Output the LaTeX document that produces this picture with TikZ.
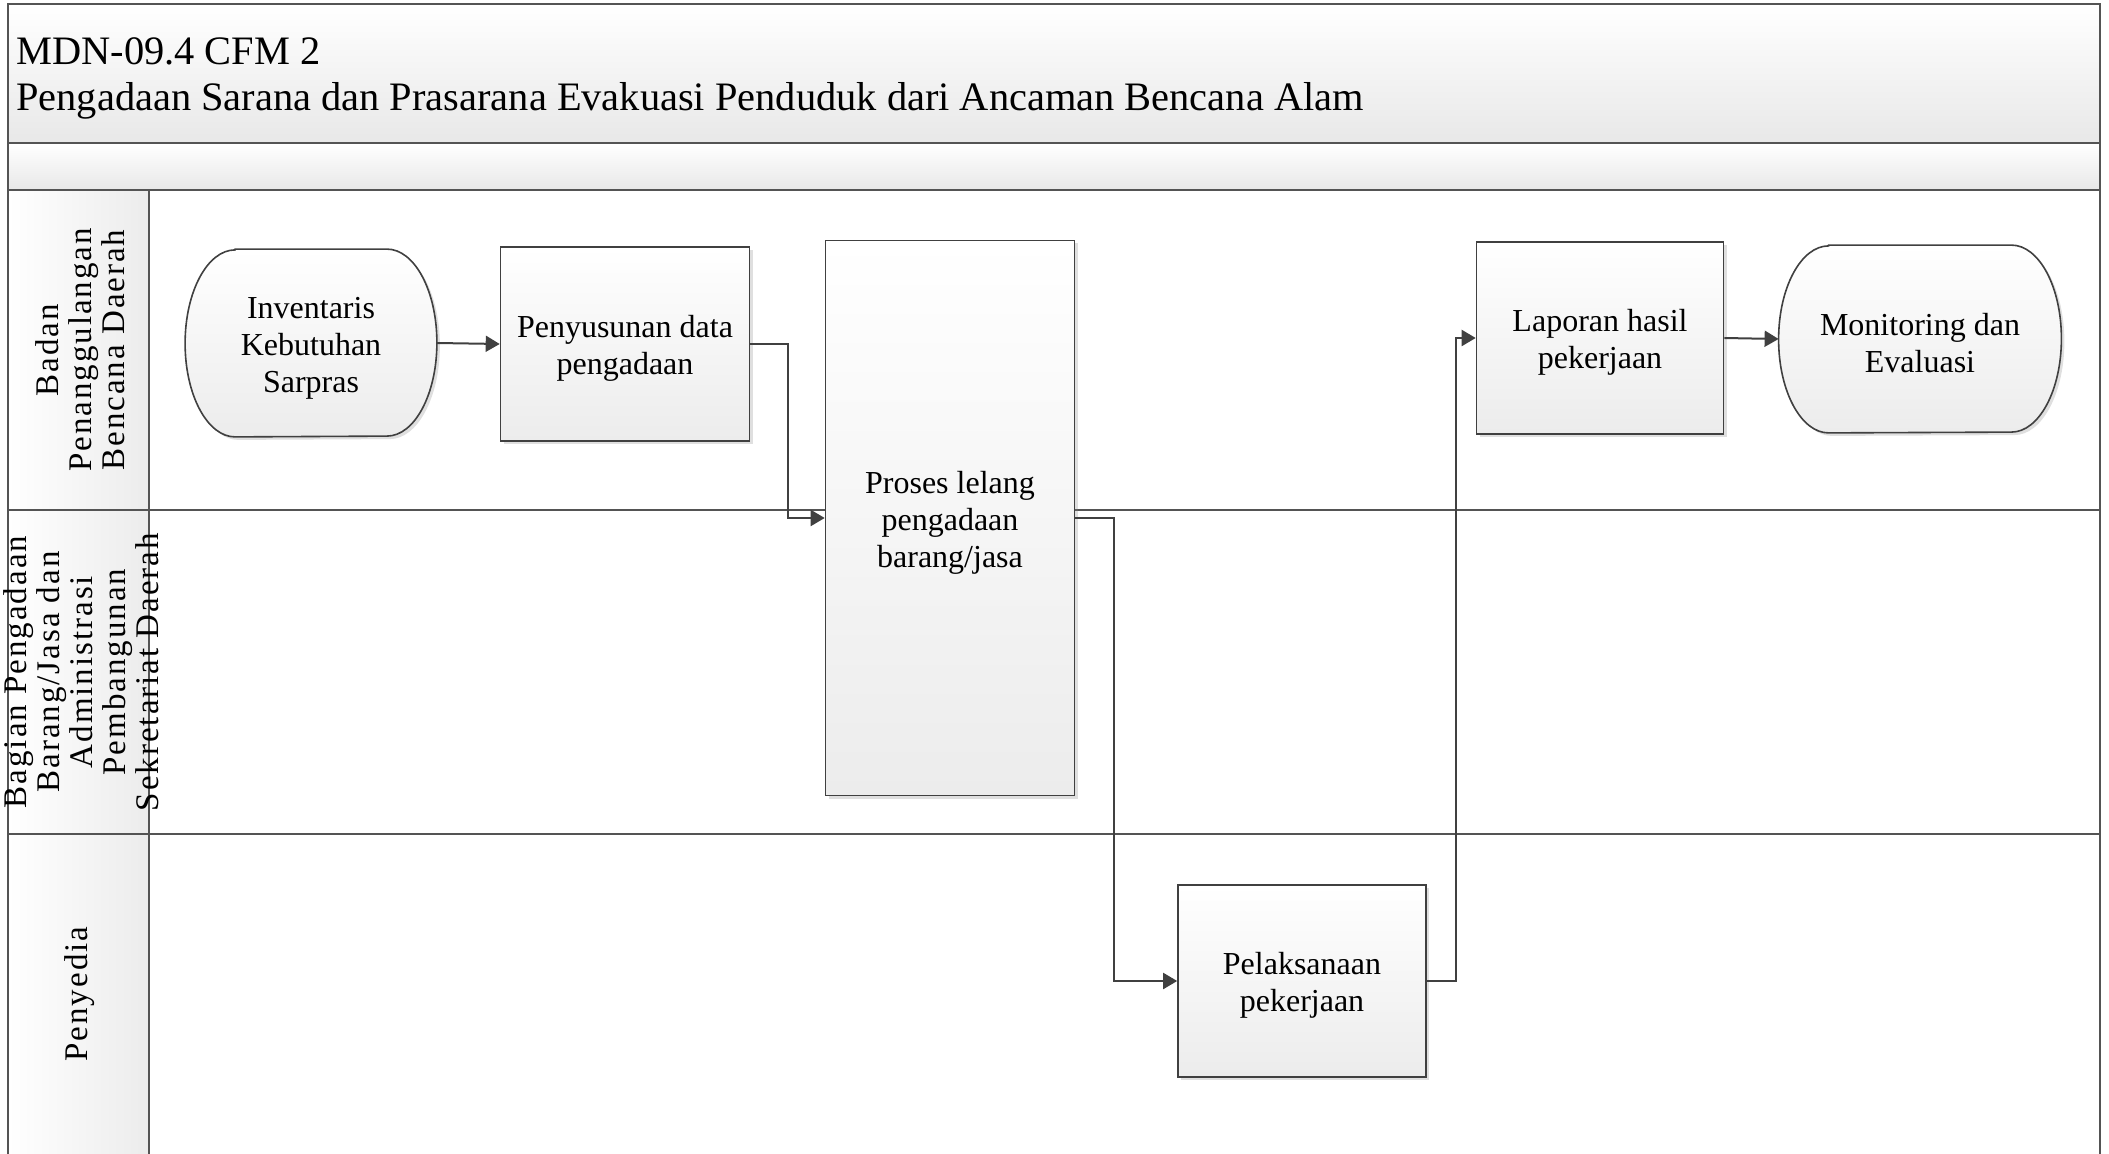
\documentclass[tikz,border=0pt]{standalone}
\usepackage{fontspec}
\setmainfont{Liberation Serif}
\newfontfamily\lanefamily[LetterSpace=6]{Liberation Serif}
\usepackage{tikz}
\usetikzlibrary{arrows.meta,calc,shadows,backgrounds}
\definecolor{framegray}{HTML}{545454}
\definecolor{linegray}{HTML}{404040}
\definecolor{bandgray}{HTML}{E8E8E8}
\definecolor{boxgray}{HTML}{ECECEC}
\newcommand\boxfont{\fontsize{16}{18.5}\selectfont}
\newcommand\lanefont{\lanefamily\fontsize{16.5}{16.5}\selectfont}
\newcommand\titlefont{\fontsize{20.2}{23}\selectfont}
\newcommand\tstrut{\rule{0pt}{15.5pt}}

\begin{document}
\begin{tikzpicture}[x=0.5pt,y=-0.5pt,
  frame/.style={draw=framegray,line width=1pt},
  band/.style={top color=white,bottom color=bandgray},
  head/.style={left color=white,right color=boxgray},
  block/.style={draw=linegray,line width=0.8pt,top color=white,bottom color=boxgray,
    drop shadow={shadow xshift=1.5pt,shadow yshift=-1.5pt,opacity=0.25},
    align=center,font=\boxfont,inner sep=2pt},
  term/.style={align=center,font=\boxfont,minimum height=93.5pt},
  termpath/.style={draw=linegray,line width=0.8pt,top color=white,bottom color=boxgray,
    drop shadow={shadow xshift=1.5pt,shadow yshift=-1.5pt,opacity=0.25}},
  lane/.style={rotate=90,align=center,font=\lanefont},
  flow/.style={draw=linegray,line width=1pt,-{Triangle[length=7pt,width=8pt]}}
]
\useasboundingbox (0,0) rectangle (2109,1154);
\path[band] (8,4) rectangle (2100,143);
\path[band] (8,143) rectangle (2100,190);
\path[head] (8,190) rectangle (149,1154);
\draw[frame] (8,1154) -- (8,4) -- (2100,4) -- (2100,1154);
\draw[frame,line width=1.3pt] (8,143) -- (2100,143) (8,190) -- (2100,190);
\draw[frame] (8,510) -- (2100,510) (8,834) -- (2100,834) (149,190) -- (149,1154);

\node[anchor=west,align=left,font=\titlefont,inner sep=0pt] (title) at (16,78)
  {MDN-09.4 CFM 2\\Pengadaan Sarana dan Prasarana Evakuasi Penduduk dari Ancaman Bencana Alam};

\node[lane] (bpbd) at (80,350) {Badan\\Penanggulangan\\Bencana Daerah};
\node[lane] (bpbj) at (81,672) {Bagian Pengadaan\\Barang/Jasa dan\\Administrasi\\Pembangunan\\Sekretariat Daerah};
\node[lane] (penyedia) at (80,994) {Penyedia};

\node[term,minimum width=125.5pt] (inv) at (311,343) {\tstrut Inventaris\\Kebutuhan\\Sarpras};
\node[block,minimum width=124.5pt,minimum height=97pt] (pen) at (625,344) {\tstrut Penyusunan data\\pengadaan};
\node[block,minimum width=124.5pt,minimum height=277.5pt] (proses) at (950,518) {\tstrut Proses lelang\\pengadaan\\barang/jasa};
\node[block,minimum width=124pt,minimum height=96pt] (pel) at (1302,981) {\tstrut Pelaksanaan\\pekerjaan};
\node[block,minimum width=123.5pt,minimum height=96pt] (lap) at (1600,338) {\tstrut Laporan hasil\\pekerjaan};
\node[term,minimum width=141pt] (mon) at (1920,339) {\tstrut Monitoring dan\\Evaluasi};

\begin{scope}[on background layer]
\foreach \t in {inv,mon}
  \path[termpath] ($(\t.north west)+(25pt,0)$) -- ($(\t.north east)+(-25pt,0)$)
    arc[start angle=90,end angle=-90,x radius=25pt,y radius=46.75pt]
    -- ($(\t.south west)+(25pt,0)$)
    arc[start angle=270,end angle=90,x radius=25pt,y radius=46.75pt] -- cycle;
\end{scope}

\draw[flow] (inv.east) -- (pen.west);
\draw[flow] (pen.east) -- ++(38,0) |- (proses.west);
\draw[flow] (proses.east) -- ++(39,0) |- (pel.west);
\draw[flow] (pel.east) -- ++(29,0) |- (lap.west);
\draw[flow] (lap.east) -- (mon.west);
\end{tikzpicture}
\end{document}
